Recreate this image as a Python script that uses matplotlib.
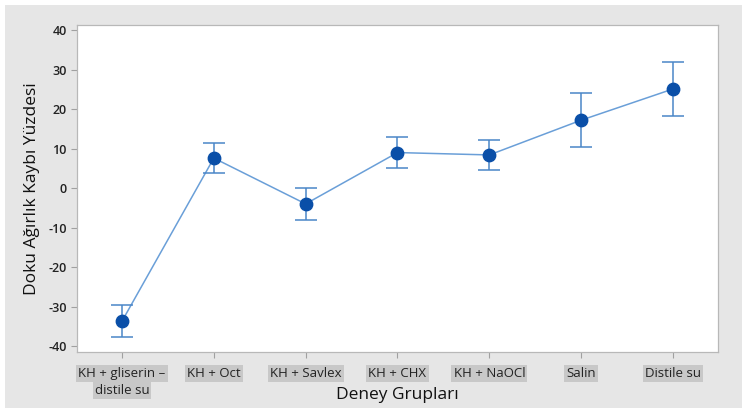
import matplotlib
matplotlib.use("Agg")
import matplotlib.pyplot as plt
from matplotlib.patches import Rectangle
from matplotlib.transforms import blended_transform_factory

categories = ["KH + gliserin \u2013\ndistile su", "KH + Oct", "KH + Savlex", "KH + CHX",
              "KH + NaOCl", "Salin", "Distile su"]
means = [-33.7, 7.6, -4.0, 9.0, 8.4, 17.2, 25.1]
errors = [4.0, 3.9, 4.0, 3.9, 3.9, 6.8, 6.9]
yticks = [-40, -30, -20, -10, 0, 10, 20, 30, 40]

plt.rcParams['font.family'] = ['Open Sans', 'DejaVu Sans']

fig = plt.figure(figsize=(7.43, 4.08), dpi=100)
fig.patch.set_facecolor("white")
fig.patches.append(Rectangle((5/743, 0), 737/743, 403/408, transform=fig.transFigure,
                             facecolor="#e6e6e6", edgecolor="none", zorder=-10))

ax = fig.add_axes([77/743, 1 - 352/408, (718-77)/743, (352-25)/408])
ax.set_facecolor("white")
x = list(range(len(categories)))
ax.plot(x, means, color="#6a9fd8", lw=1.1, zorder=2)
ax.errorbar(x, means, yerr=errors, fmt="none", ecolor="#4a86c8", elinewidth=1.1,
            capsize=8, capthick=1.1, zorder=3)
ax.scatter(x, means, s=80, color="#0a4fa8", zorder=4)

ax.set_xlim(-0.49, 6.49)
ax.set_ylim(-41.5, 41.3)
ax.set_yticks(yticks)
ax.set_yticklabels([str(t) for t in yticks], fontsize=9, fontweight="semibold", color="#222222")
ax.set_xticks(x)
first_lines = [c.split("\n")[0] for c in categories]
ax.set_xticklabels(first_lines, fontsize=9.5, color="#222222")
for lab in ax.get_xticklabels():
    lab.set_bbox(dict(facecolor="#c8c8c8", edgecolor="none", pad=1.5))
trans = blended_transform_factory(ax.transData, fig.transFigure)
for i, c in enumerate(categories):
    parts = c.split("\n")
    if len(parts) > 1:
        ax.text(i, 1 - 390/408, parts[1], transform=trans, ha="center", va="center",
                fontsize=9.5, color="#222222",
                bbox=dict(facecolor="#c8c8c8", edgecolor="none", pad=1.5))
ax.tick_params(axis="both", direction="out", length=4, color="#a0a0a0", width=0.8)
ax.tick_params(axis="x", pad=7)
for s in ax.spines.values():
    s.set_color("#b8b8b8")
    s.set_linewidth(0.9)

ax.set_ylabel("Doku A\u011f\u0131rl\u0131k Kayb\u0131 Y\u00fczdesi", fontsize=12.5, color="#111111", labelpad=6)
fig.text(397/743, 1 - 395/408, "Deney Gruplar\u0131", fontsize=12.5, color="#111111",
         ha="center", va="center")

fig.savefig("out.png", dpi=100, facecolor=fig.get_facecolor())
